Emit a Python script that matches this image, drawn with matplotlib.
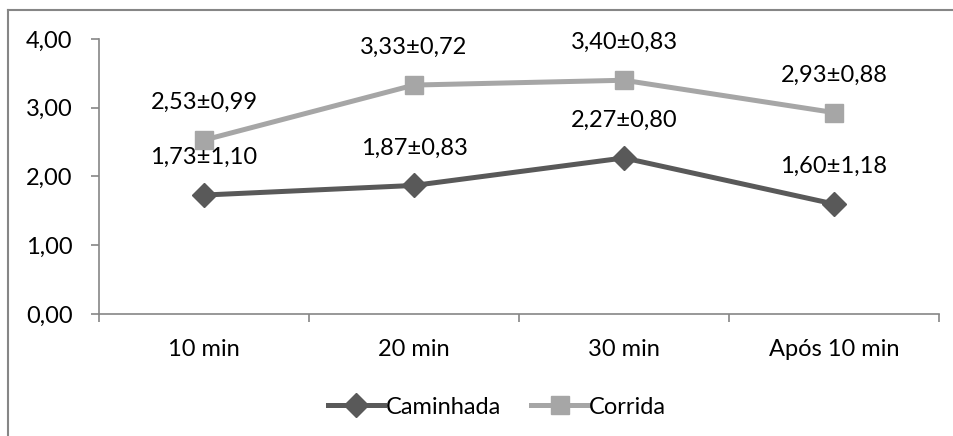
import matplotlib.pyplot as plt
from matplotlib.lines import Line2D

plt.rcParams['font.family'] = ['Lato', 'DejaVu Sans']

categorias = ['10 min', '20 min', '30 min', 'Após 10 min']
caminhada = [1.73, 1.87, 2.27, 1.60]
caminhada_dp = [1.10, 0.83, 0.80, 1.18]
corrida = [2.53, 3.33, 3.40, 2.93]
corrida_dp = [0.99, 0.72, 0.83, 0.88]
yticks = [0, 1, 2, 3, 4]

cor_cam = '#595959'
cor_cor = '#a6a6a6'
cor_eixo = '#868686'
fs = 17


def fmt(v):
    return f'{v:.2f}'.replace('.', ',')


fig = plt.figure(figsize=(9.54, 4.36), dpi=100)
ax = fig.add_axes([99 / 954, 1 - 314 / 436, 840 / 954, 275 / 436])

x = range(len(categorias))
ax.plot(x, caminhada, color=cor_cam, lw=3.6, marker='D', ms=12, label='Caminhada')
ax.plot(x, corrida, color=cor_cor, lw=3.6, marker='s', ms=13, label='Corrida')

# data labels (media ± dp)
for serie, dp in ((caminhada, caminhada_dp), (corrida, corrida_dp)):
    for i, (v, d) in enumerate(zip(serie, dp)):
        ax.annotate(f'{fmt(v)}±{fmt(d)}', (i, v), xytext=(0, 27),
                    textcoords='offset points', ha='center', va='center',
                    fontsize=fs, color='black')

ax.set_xlim(-0.5, len(categorias) - 0.5)
ax.set_ylim(0, 4)
ax.set_yticks(yticks)
ax.set_yticklabels([fmt(v) for v in yticks])
ax.set_xticks(list(x))
ax.set_xticklabels(categorias)
ax.set_xticks([i - 0.5 for i in range(len(categorias) + 1)], minor=True)

ax.tick_params(axis='x', which='major', length=0, pad=18, labelsize=fs)
ax.tick_params(axis='x', which='minor', length=6, direction='out', color=cor_eixo, width=1.2)
ax.tick_params(axis='y', length=6, direction='out', color=cor_eixo, width=1.2, pad=13, labelsize=fs)

for s in ('top', 'right'):
    ax.spines[s].set_visible(False)
for s in ('left', 'bottom'):
    ax.spines[s].set_color(cor_eixo)
    ax.spines[s].set_linewidth(1.2)

leg = fig.legend(loc='center', bbox_to_anchor=(497 / 954, 1 - 407 / 436), ncol=2,
                 frameon=False, fontsize=fs, handlelength=2.4, handletextpad=0.05,
                 columnspacing=1.3)

# outer chart border (only left and top visible)
fig.add_artist(Line2D([8.5 / 954, 8.5 / 954], [0, 1 - 10 / 436], color=cor_eixo, lw=1.5,
                      transform=fig.transFigure))
fig.add_artist(Line2D([8.5 / 954, 1], [1 - 10 / 436, 1 - 10 / 436], color=cor_eixo, lw=1.5,
                      transform=fig.transFigure))

fig.savefig('out.png', dpi=100)
